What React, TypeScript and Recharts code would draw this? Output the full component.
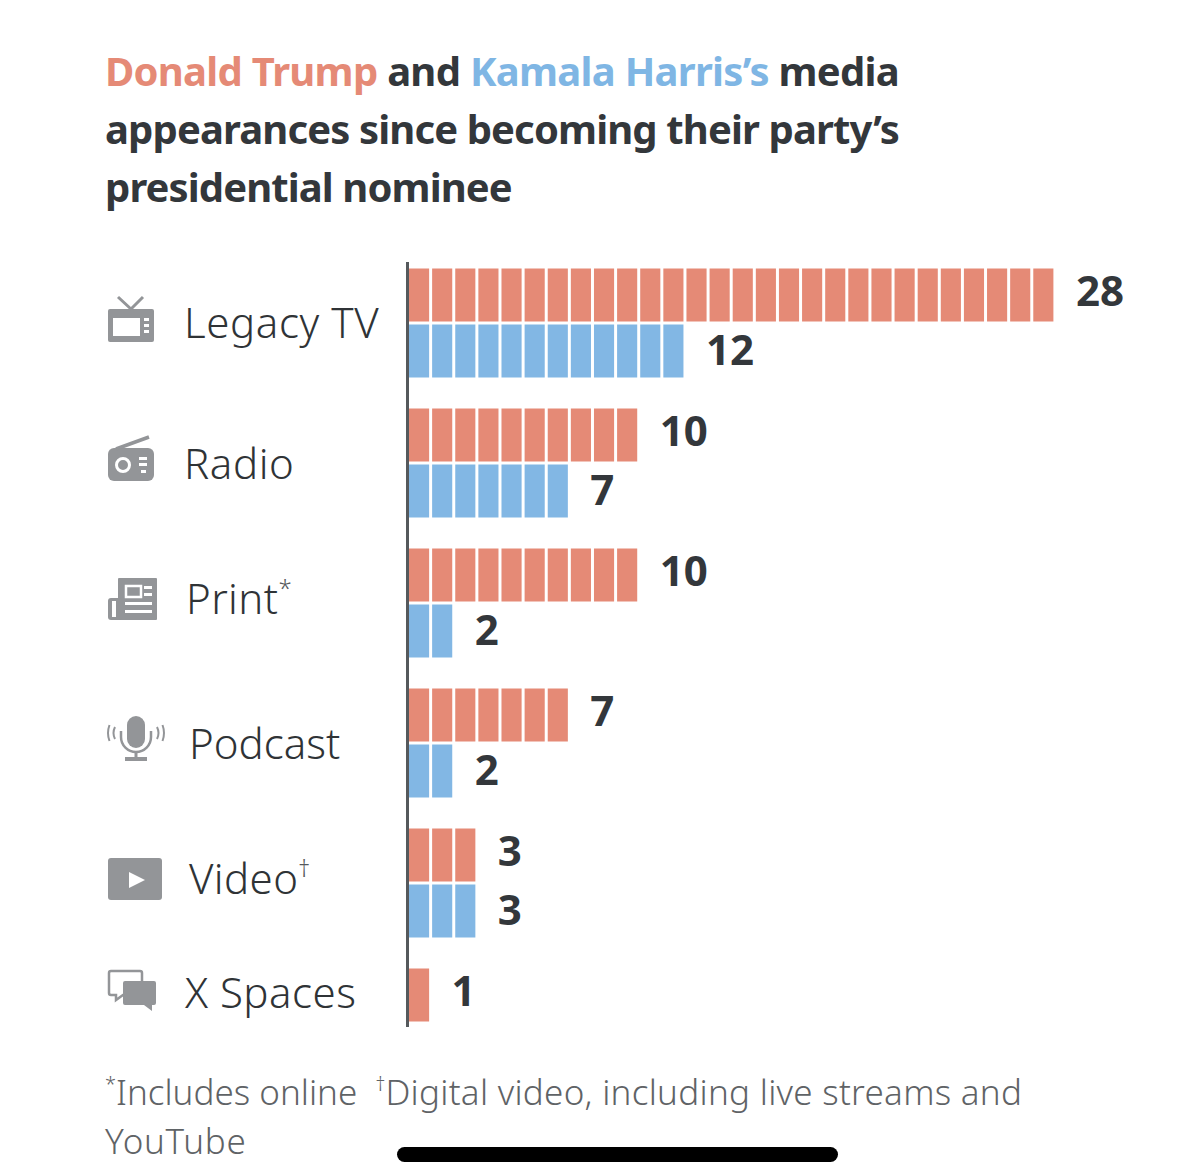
import React from "react";
import { BarChart, Bar, XAxis, YAxis, LabelList } from "recharts";

const categories = ["Legacy TV", "Radio", "Print*", "Podcast", "Video†", "X Spaces"];
const trumpValues = [28, 10, 10, 7, 3, 1];
const harrisValues = [12, 7, 2, 2, 3, 0];
const titleLines = [
  [["Donald Trump", "#E58A76"], [" and ", "#33373B"], ["Kamala Harris’s", "#7FB6E4"], [" media", "#33373B"]],
  [["appearances since becoming their party’s", "#33373B"]],
  [["presidential nominee", "#33373B"]],
];
const titleTracking = [-0.72, -0.87, -0.9];
const rows = categories.map((name, i) => ({ name, trump: trumpValues[i], harris: harrisValues[i] }));

const RED = "#E58A76";
const BLUE = "#82B7E4";
const ICON = "#939598";
const FONT = "'Noto Sans', sans-serif";
const tickLayout: Record<string, { labelX: number; dy: number; iconDy: number; tracking: number }> = {
  "Legacy TV": { labelX: 184, dy: 15, iconDy: -25.5, tracking: 0.6 },
  Radio: { labelX: 184, dy: 16, iconDy: -26.5, tracking: 0.6 },
  "Print*": { labelX: 186, dy: 11, iconDy: -24.5, tracking: 0.4 },
  Podcast: { labelX: 189, dy: 16, iconDy: -26.5, tracking: 0 },
  "Video†": { labelX: 189, dy: 11, iconDy: -24.5, tracking: 0.4 },
  "X Spaces": { labelX: 185, dy: -15, iconDy: -52.5, tracking: 0.5 },
};

function Icon({ name }: { name: string }) {
  if (name === "Legacy TV")
    return (
      <g>
        <rect x={0} y={12} width={46} height={33} rx={2} fill={ICON} />
        <rect x={5} y={21} width={27} height={18} fill="#fff" />
        <path d="M10 0 L23 12 L35 0" fill="none" stroke={ICON} strokeWidth={3} />
        <rect x={36} y={21} width={5} height={3} fill="#fff" />
        <rect x={36} y={27} width={5} height={3} fill="#fff" />
        <rect x={36} y={33} width={5} height={3} fill="#fff" />
      </g>
    );
  if (name === "Radio")
    return (
      <g>
        <rect x={0} y={12} width={46} height={33} rx={6} fill={ICON} />
        <path d="M8 13 L41 1" stroke={ICON} strokeWidth={3.5} fill="none" />
        <circle cx={15} cy={29} r={6.5} fill="none" stroke="#fff" strokeWidth={3} />
        <rect x={31} y={21} width={8} height={3} fill="#fff" />
        <rect x={31} y={27} width={8} height={3} fill="#fff" />
        <rect x={33} y={34} width={5} height={3} fill="#fff" />
      </g>
    );
  if (name === "Print*")
    return (
      <g>
        <rect x={10} y={0} width={39} height={42} rx={1} fill={ICON} />
        <rect x={0} y={20} width={14} height={22} rx={3} fill={ICON} />
        <rect x={4} y={23} width={4} height={16} fill="#fff" />
        <rect x={18} y={8} width={15} height={11} fill="none" stroke="#fff" strokeWidth={2.5} />
        <rect x={36} y={8} width={8} height={3} fill="#fff" />
        <rect x={36} y={15} width={8} height={3} fill="#fff" />
        <rect x={17} y={24} width={27} height={3} fill="#fff" />
        <rect x={17} y={32} width={27} height={3} fill="#fff" />
      </g>
    );
  if (name === "Podcast")
    return (
      <g fill="none" stroke={ICON}>
        <rect x={19} y={0} width={18} height={32} rx={9} fill={ICON} stroke="none" />
        <path d="M13 15 V21 A15 15 0 0 0 43 21 V15" strokeWidth={2.5} />
        <path d="M28 36 V44" strokeWidth={3} />
        <rect x={17} y={41} width={22} height={4} fill={ICON} stroke="none" />
        <path d="M7 11 Q4 17 7 23 M1.5 9 Q-1.5 17 1.5 25" strokeWidth={2} />
        <path d="M49 11 Q52 17 49 23 M54.5 9 Q57.5 17 54.5 25" strokeWidth={2} />
      </g>
    );
  if (name === "Video†")
    return (
      <g>
        <rect x={0} y={0} width={54} height={42} rx={3} fill={ICON} />
        <path d="M21 14 L21 30 L37 22 Z" fill="#fff" />
      </g>
    );
  return (
    <g>
      <path d="M3 1 H32 Q34 1 34 3 V23 Q34 25 32 25 H15 L8 30 V25 H3 Q1 25 1 23 V3 Q1 1 3 1 Z" fill="#fff" stroke={ICON} strokeWidth={2.5} />
      <path d="M17 11 H46 Q48 11 48 13 V33 Q48 35 46 35 H44 V41 L36 35 H17 Q15 35 15 33 V13 Q15 11 17 11 Z" fill={ICON} />
    </g>
  );
}

function CategoryTick({ y, payload }: any) {
  const raw: string = payload.value;
  const layout = tickLayout[raw];
  const base = raw.replace(/[*†]$/, "");
  const mark = raw.slice(base.length);
  return (
    <g>
      <g transform={`translate(108, ${y + layout.iconDy})`}>
        <Icon name={raw} />
      </g>
      <text x={layout.labelX} y={y + layout.dy} fontFamily={FONT} fontWeight={300} fontSize={42} letterSpacing={layout.tracking} fill="#2F3336">
        {base}
        {mark && (
          <tspan fontSize={24} dy={-17} fill="#55595C">
            {mark}
          </tspan>
        )}
      </text>
    </g>
  );
}

function SegmentedBar({ x, y, width, height, value, fill }: any) {
  if (!value) return null;
  const unit = width / value;
  return (
    <g>
      {Array.from({ length: value }, (_, i) => (
        <rect key={i} x={x + i * unit} y={y} width={unit - 3} height={height} fill={fill} />
      ))}
    </g>
  );
}

function ValueLabel({ x, y, width, height, value, shift }: any) {
  if (!value) return null;
  return (
    <text x={x + width + 19.5} y={y + height / 2 + 15 + shift} fontFamily={FONT} fontWeight={700} fontSize={42} fill="#33373B">
      {value}
    </text>
  );
}

const abs = (left: number, top: number): React.CSSProperties => ({ position: "absolute", left, top, whiteSpace: "pre", fontFamily: FONT });
const sup: React.CSSProperties = { fontSize: 20, verticalAlign: "14px" };

export default function App() {
  return (
    <div style={{ position: "absolute", left: 0, top: 0, width: 1200, height: 1165, background: "#fff", overflow: "hidden" }}>
      {titleLines.map((line, i) => (
        <div key={i} style={{ ...abs(105, 42 + i * 58), fontSize: 40, lineHeight: "58px", fontWeight: 700, letterSpacing: titleTracking[i] }}>
          {line.map(([t, c], j) => (
            <span key={j} style={{ color: c }}>
              {t}
            </span>
          ))}
        </div>
      ))}
      <div style={{ position: "absolute", left: 0, top: 0 }}>
        <BarChart
          width={1200}
          height={1165}
          data={rows}
          layout="vertical"
          barSize={53}
          barGap={3}
          margin={{ left: 0, right: 143.6, top: 252.5, bottom: 72.5 }}
        >
          <XAxis type="number" domain={[0, 28]} hide />
          <YAxis
            type="category"
            dataKey="name"
            width={409}
            axisLine={false}
            tickLine={false}
            interval={0}
            tick={<CategoryTick />}
          />
          <Bar dataKey="trump" fill={RED} isAnimationActive={false} shape={<SegmentedBar />}>
            <LabelList dataKey="trump" content={<ValueLabel shift={-4} />} />
          </Bar>
          <Bar dataKey="harris" fill={BLUE} isAnimationActive={false} shape={<SegmentedBar />}>
            <LabelList dataKey="harris" content={<ValueLabel shift={-1} />} />
          </Bar>
        </BarChart>
      </div>
      <div style={{ position: "absolute", left: 406, top: 262, width: 3, height: 765, background: "#55595C" }} />
      <div style={{ ...abs(105, 1059), fontSize: 35, lineHeight: "49px", fontWeight: 300, color: "#5F6366" }}>
        <span style={sup}>*</span>Includes online{"  "}
        <span style={sup}>†</span>
        <span style={{ letterSpacing: 0.28 }}>Digital video, including live streams and</span>
        <br />
        <span style={{ letterSpacing: 0.7 }}>YouTube</span>
      </div>
      <div style={{ position: "absolute", left: 397, top: 1147, width: 441, height: 15, borderRadius: 8, background: "#000" }} />
    </div>
  );
}
